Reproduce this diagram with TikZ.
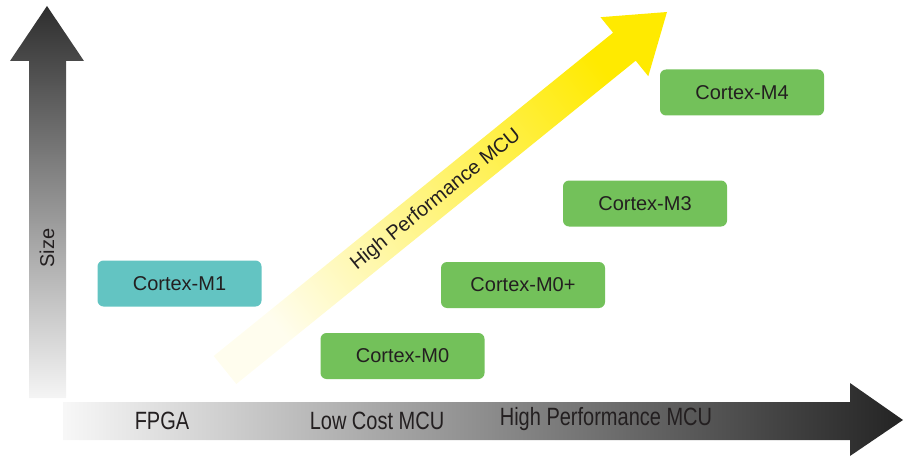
\documentclass[tikz,border=0pt]{standalone}
\usepackage{fontspec}
\setmainfont{Liberation Sans}
\usepackage{tikz}
\definecolor{textdark}{HTML}{231F20}
\definecolor{coregreen}{HTML}{73C15A}
\definecolor{coreteal}{HTML}{63C4C2}
\definecolor{hpyellow}{HTML}{FFEA00}
\definecolor{hpmid}{HTML}{FFF6A6}
\definecolor{hppale}{HTML}{FFFDEE}
\tikzstyle{corebox} = [fill=coregreen, rectangle, rounded corners=6pt,
minimum width=164pt, minimum height=46pt, inner sep=0pt,
text=textdark, font=\fontsize{20}{24}\selectfont]
\tikzstyle{fpgabox} = [corebox, fill=coreteal]
\tikzstyle{axislabel} = [text=textdark, anchor=base, inner sep=0pt,
xscale=0.8, transform shape, font=\fontsize{25}{30}\selectfont]

\begin{document}
\begin{tikzpicture}[x=1pt, y=-1pt]
		\useasboundingbox (0,0) rectangle (906,460);
		% size axis
		\shade [top color=black!82, middle color=black!38, bottom color=black!4]
		(29,398) -- (29,61) -- (10,61) -- (47,6) -- (84,61) -- (66,61) -- (66,398) -- cycle;
		\node [text=textdark, rotate=90, font=\fontsize{20}{24}\selectfont] (size) at (47,248) {Size};
		% market axis
		\shade [left color=black!3, middle color=black!36, right color=black!86]
		(63,402) -- (850,402) -- (850,383) -- (903,420) -- (850,456) -- (850,440) -- (63,440) -- cycle;
		\node [axislabel] (fpga) at (162,429) {FPGA};
		\node [axislabel] (lowcost) at (377,429) {Low Cost MCU};
		\node [axislabel] (highperf) at (606,425) {High Performance MCU};
		% performance arrow
		\shade [top color=hpyellow, middle color=hpmid, bottom color=hppale, shading angle=-51]
		(213.7,356) -- (613.1,32.7) -- (600.5,17.2) -- (667,12) -- (648.3,76.2)
		-- (635.7,60.7) -- (236.3,384) -- cycle;
		\node [text=textdark, rotate=39, font=\fontsize{20}{24}\selectfont] (hpmcu) at (436,200) {High Performance MCU};
		% cores
		\node [fpgabox] (m1) at (179.5,283.5) {Cortex-M1};
		\node [corebox] (m0) at (402.5,356) {Cortex-M0};
		\node [corebox] (m0plus) at (523,285) {Cortex-M0+};
		\node [corebox] (m3) at (645,203.5) {Cortex-M3};
		\node [corebox] (m4) at (742,92.5) {Cortex-M4};
\end{tikzpicture}
\end{document}
